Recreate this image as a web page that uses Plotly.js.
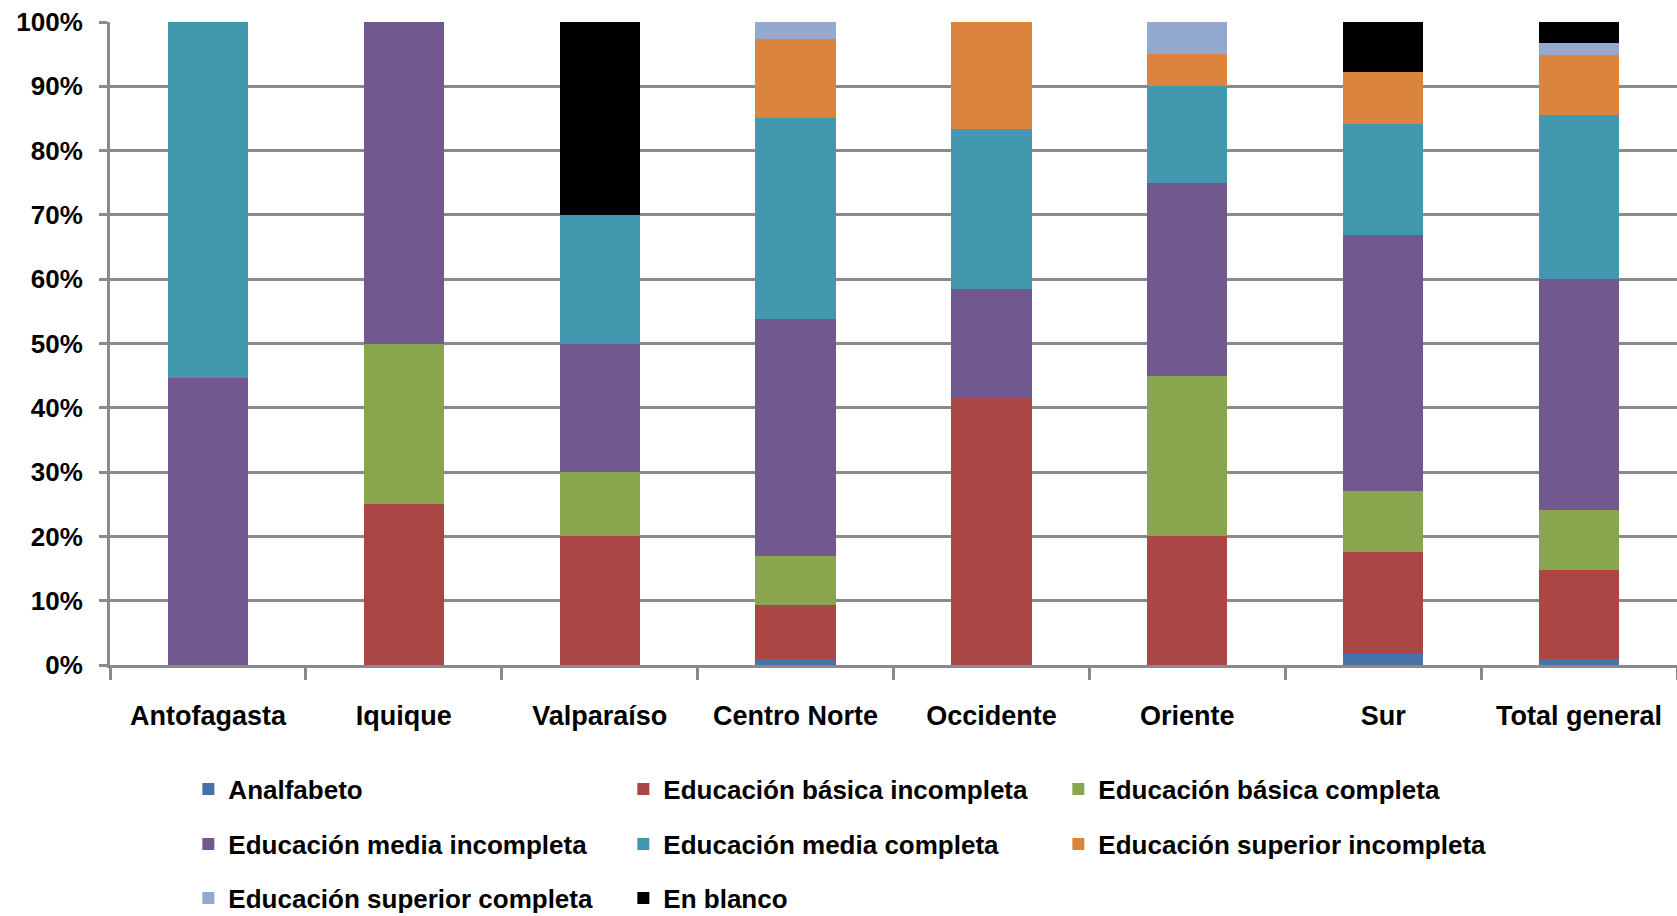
<!DOCTYPE html>
<html>
<head>
<meta charset="utf-8">
<script src="https://cdn.plot.ly/plotly-3.0.1.min.js"></script>
<style>
  html, body { margin: 0; padding: 0; background: #ffffff; }
  #chart { width: 1677px; height: 916px; }
</style>
</head>
<body>
<div id="chart"></div>
<script>
// ---- Data (percent of each group) ----
const categories = ['Antofagasta', 'Iquique', 'Valparaíso', 'Centro Norte', 'Occidente', 'Oriente', 'Sur', 'Total general'];
const seriesNames = ['Analfabeto', 'Educación básica incompleta', 'Educación básica completa',
  'Educación media incompleta', 'Educación media completa', 'Educación superior incompleta',
  'Educación superior completa', 'En blanco'];
const analfabeto      = [0,    0,  0,  1.0,  0,    0,  1.7, 0.9];
const basicaIncomp    = [0,   25, 20,  8.4, 41.7, 20, 15.9, 13.9];
const basicaComp      = [0,   25, 10,  7.5,  0,   25,  9.5,  9.3];
const mediaIncomp     = [44.7, 50, 20, 36.9, 16.7, 30, 39.7, 35.9];
const mediaComp       = [55.3, 0, 20, 31.2, 25,   15, 17.4, 25.5];
const superiorIncomp  = [0,    0,  0, 12.4, 16.6,  5,  8.0,  9.4];
const superiorComp    = [0,    0,  0,  2.6,  0,    5,  0,    1.8];
const enBlanco        = [0,    0, 30,  0,    0,    0,  7.8,  3.3];
const yTickVals   = [0, 10, 20, 30, 40, 50, 60, 70, 80, 90, 100];
const yTickLabels = ['0%', '10%', '20%', '30%', '40%', '50%', '60%', '70%', '80%', '90%', '100%'];

const seriesValues = [analfabeto, basicaIncomp, basicaComp, mediaIncomp, mediaComp, superiorIncomp, superiorComp, enBlanco];
const colors = ['#4572A7', '#AA4643', '#89A54E', '#71588F', '#4198AF', '#DB843D', '#93A9CF', '#000000'];
const legendIds = ['legend', 'legend', 'legend', 'legend2', 'legend2', 'legend2', 'legend3', 'legend3'];

const traces = seriesNames.map((name, i) => ({
  type: 'bar',
  name: name,
  x: categories,
  y: seriesValues[i],
  marker: { color: colors[i], line: { width: 0 } },
  legend: legendIds[i],
  hoverinfo: 'x+y+name'
}));

const FONT = { family: '"Liberation Sans", Arial, sans-serif', size: 26, color: '#000000', weight: 'bold' };
const XFONT = { family: '"Liberation Sans", Arial, sans-serif', size: 27, color: '#000000', weight: 'bold' };
const plotTop = 22, plotBottom = 665, plotH = plotBottom - plotTop;
const rowY = px => (plotBottom - px) / plotH;

function legendAt(yPx) {
  return {
    orientation: 'h',
    x: 0.05, xanchor: 'left',
    y: rowY(yPx), yanchor: 'middle',
    traceorder: 'normal',
    entrywidth: 390,
    entrywidthmode: 'pixels',
    font: FONT,
    bgcolor: 'rgba(0,0,0,0)',
    borderwidth: 0
  };
}

const layout = {
  width: 1677, height: 916,
  margin: { l: 110, r: 0, t: plotTop, b: 916 - plotBottom, autoexpand: false },
  paper_bgcolor: '#ffffff',
  plot_bgcolor: '#ffffff',
  barmode: 'stack',
  bargap: 0.59,
  font: FONT,
  showlegend: true,
  legend: legendAt(789),
  legend2: legendAt(844),
  legend3: legendAt(898),
  xaxis: {
    type: 'category',
    showgrid: false,
    showline: true, linecolor: '#8a8a8a', linewidth: 3,
    ticks: 'outside', tickson: 'boundaries', ticklen: 12, tickwidth: 3, tickcolor: '#8a8a8a',
    ticklabelstandoff: 25,
    tickfont: XFONT,
    zeroline: false,
    automargin: false
  },
  yaxis: {
    range: [0, 100],
    tickmode: 'array',
    tickvals: yTickVals,
    ticktext: yTickLabels,
    showgrid: true, gridcolor: '#8a8a8a', gridwidth: 3,
    showline: true, linecolor: '#8a8a8a', linewidth: 3,
    ticks: 'outside', ticklen: 8, tickwidth: 3, tickcolor: '#8a8a8a',
    ticklabelstandoff: 11,
    tickfont: FONT,
    zeroline: false,
    automargin: false,
    fixedrange: true
  }
};

Plotly.newPlot('chart', traces, layout, { displayModeBar: false, staticPlot: true });
</script>
</body>
</html>
